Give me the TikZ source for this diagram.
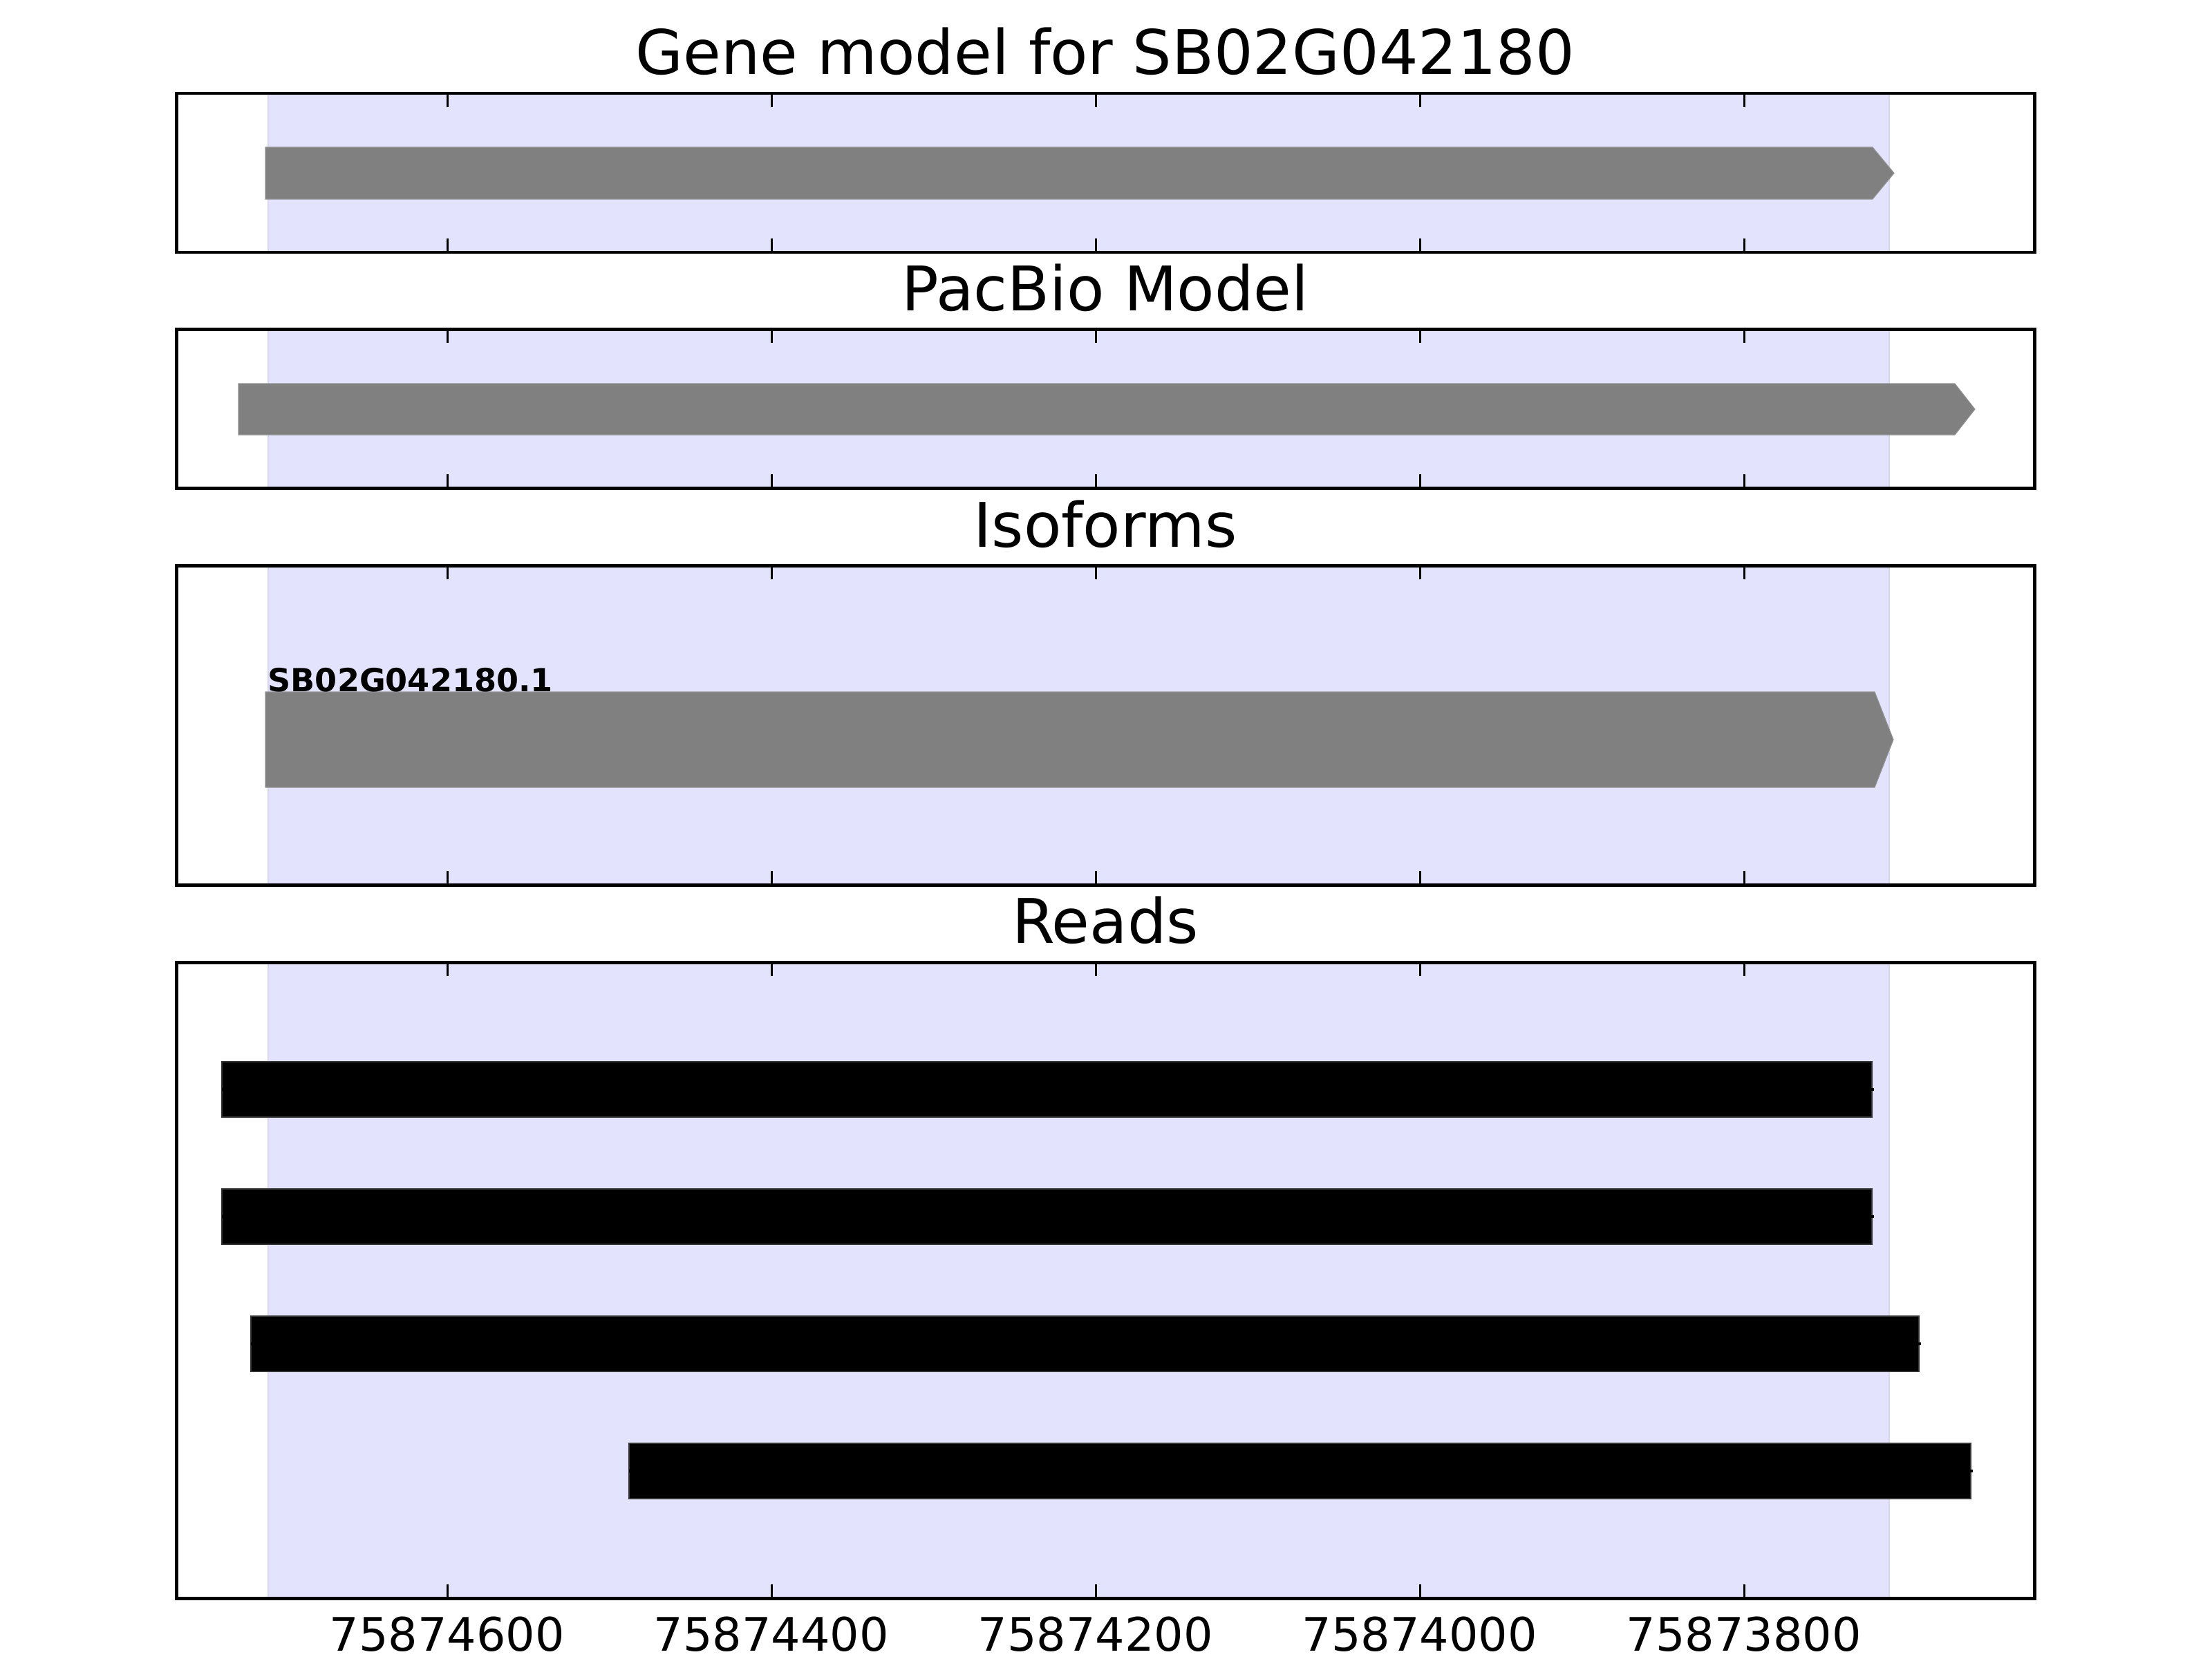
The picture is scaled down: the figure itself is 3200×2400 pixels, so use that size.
\documentclass[tikz,border=0pt]{standalone}
\usepackage{fontspec}
\setmainfont{DejaVu Sans}
\definecolor{bandfill}{RGB}{227,227,253}
\definecolor{bandedge}{RGB}{214,214,240}
\definecolor{genegray}{RGB}{128,128,128}
\begin{document}
\begin{tikzpicture}[x=0.01cm,y=-0.01cm,
  frame/.style={line width=1.42pt, draw=black},
  tickmark/.style={line width=0.85pt, draw=black},
  genebar/.style={fill=genegray, draw=genegray!85!white, line width=0.3pt},
  readbar/.style={fill=black, draw=black!80, line width=0.6pt},
  readline/.style={line width=1.4pt, draw=black},
  paneltitle/.style={font=\fontsize{25.3pt}{30pt}\selectfont, anchor=base, inner sep=0pt},
  ticklab/.style={font=\fontsize{19pt}{23pt}\selectfont, anchor=base, inner sep=0pt},
  isolab/.style={font=\bfseries\fontsize{13.1pt}{15pt}\selectfont, anchor=base west, inner sep=0pt},
]
\useasboundingbox (0,0) rectangle (3200,2400);
\fill[white] (0,0) rectangle (3200,2400);

% highlighted gene span
\foreach \t/\b in {135/365, 476/706, 818/1280, 1392/2312} {
  \fill[bandfill] (388,\t) rectangle (2733,\b);
  \draw[bandedge, line width=0.8pt] (388,\t) -- (388,\b) (2733,\t) -- (2733,\b);
}

% gene model
\filldraw[genebar] (384,213) -- (2709,213) -- (2740,250.5) -- (2709,288) -- (384,288) -- cycle;
% PacBio model
\filldraw[genebar] (345,555) -- (2828,555) -- (2857,592) -- (2828,629) -- (345,629) -- cycle;
% isoform
\filldraw[genebar] (384,1001) -- (2712,1001) -- (2739,1070) -- (2712,1139) -- (384,1139) -- cycle;
\node[isolab] (isoname) at (387,1000) {SB02G042180.1};

% reads
\foreach \l/\r/\c in {321/2708/1576, 321/2708/1760, 363/2776/1944, 910/2851/2128} {
  \filldraw[readbar] (\l,\c-40) rectangle (\r,\c+40);
  \draw[readline] (\l,\c) -- (\r+3,\c);
}

% frames and ticks
\foreach \t/\b in {135/365, 476/706, 818/1280, 1392/2312} {
  \foreach \x in {647,1116,1585,2054,2523} {
    \draw[tickmark] (\x,\t) -- (\x,\t+20);
    \draw[tickmark] (\x,\b) -- (\x,\b-20);
  }
  \draw[frame] (255,\t) rectangle (2943,\b);
}

% titles
\node[paneltitle] (t1) at (1599,108) {Gene model for SB02G042180};
\node[paneltitle] (t2) at (1599,449) {PacBio Model};
\node[paneltitle] (t3) at (1599,791) {Isoforms};
\node[paneltitle] (t4) at (1599,1364) {Reads};

% tick labels
\node[ticklab] (l1) at (647,2388) {75874600};
\node[ticklab] (l2) at (1116,2388) {75874400};
\node[ticklab] (l3) at (1585,2388) {75874200};
\node[ticklab] (l4) at (2054,2388) {75874000};
\node[ticklab] (l5) at (2523,2388) {75873800};
\end{tikzpicture}
\end{document}
